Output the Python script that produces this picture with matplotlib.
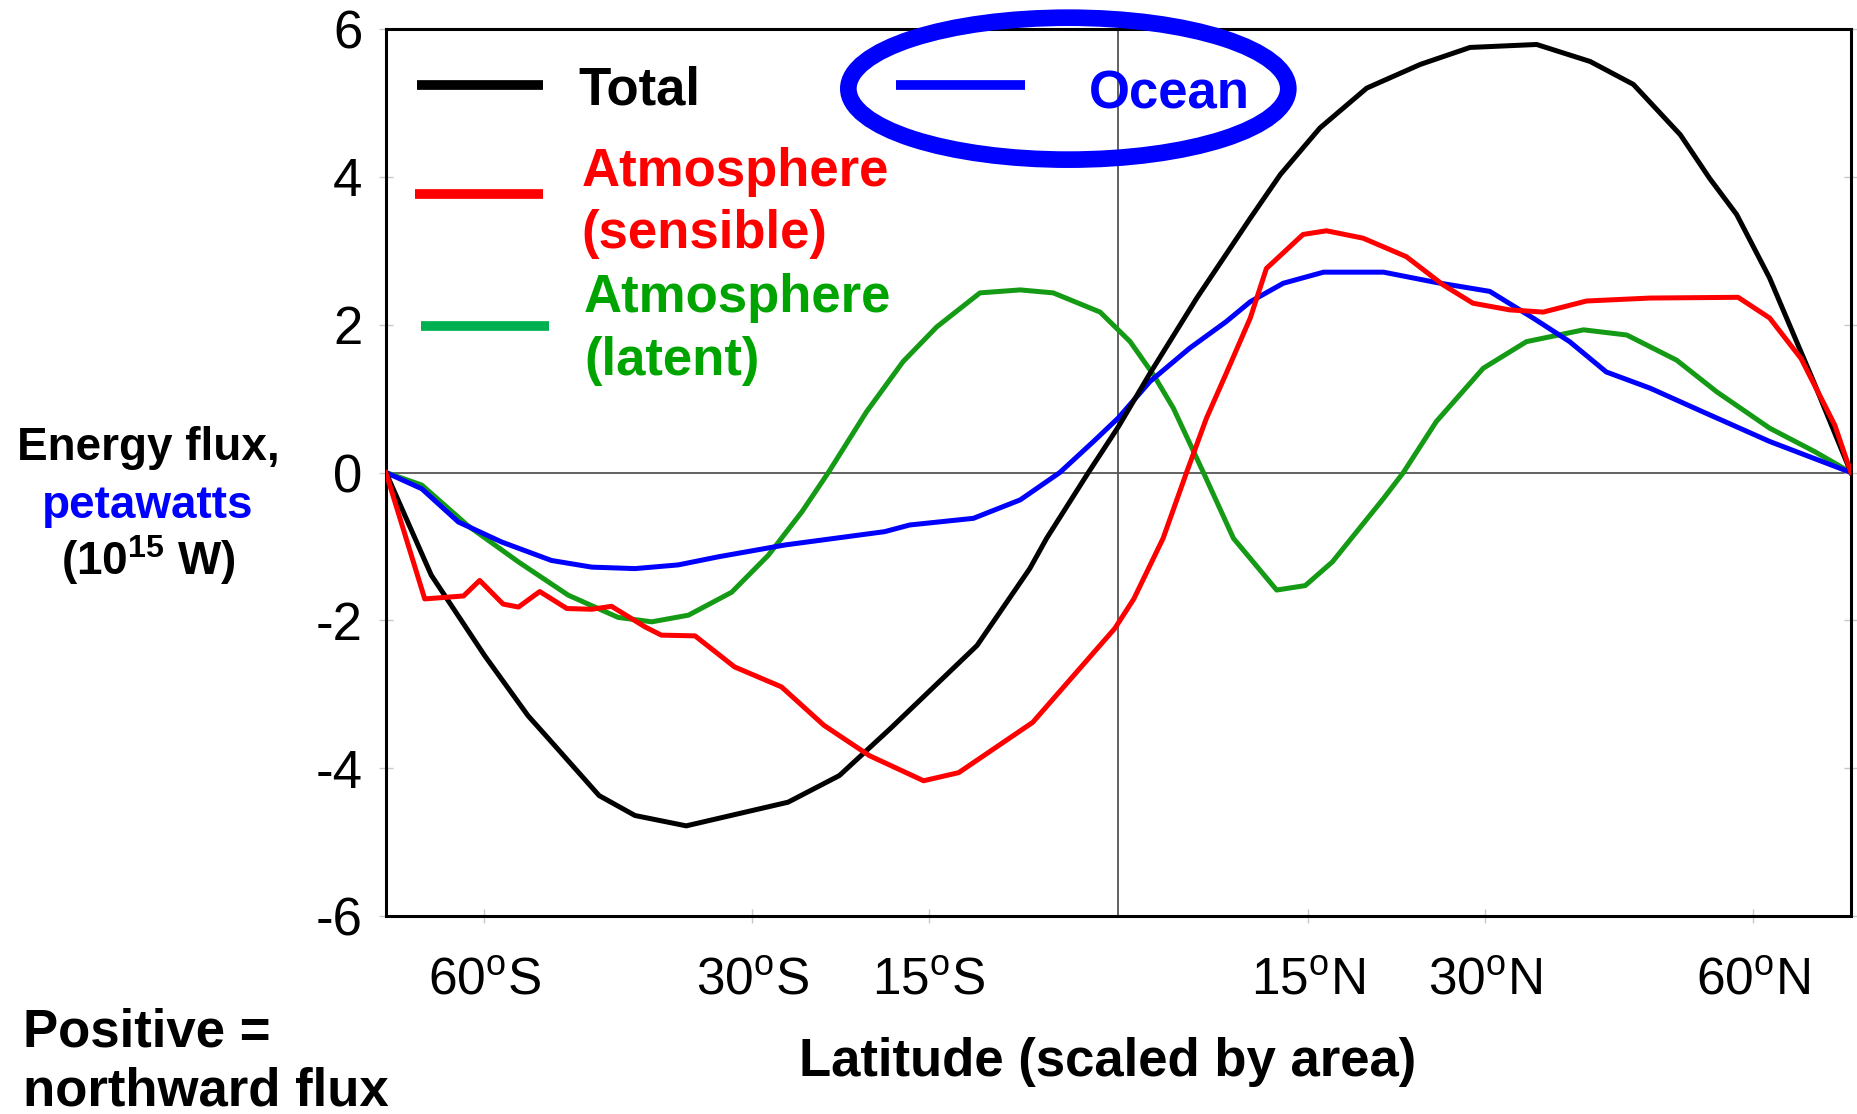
import numpy as np
import matplotlib
matplotlib.use("Agg")
import matplotlib.pyplot as plt
from matplotlib.patches import Ellipse

plt.rcParams['font.family'] = ['Liberation Sans', 'DejaVu Sans']
plt.rcParams['mathtext.fontset'] = 'custom'
plt.rcParams['mathtext.rm'] = 'Liberation Sans'
plt.rcParams['mathtext.bf'] = 'Liberation Sans:bold'
plt.rcParams['mathtext.default'] = 'regular'

# x is sin(latitude) so that equal distances mean equal areas; y in PW
total_x = [-1.0, -0.938, -0.865, -0.806, -0.778, -0.709, -0.66, -0.59, -0.451,
           -0.381, -0.312, -0.193, -0.121, -0.098, -0.041, 0.0, 0.043, 0.107,
           0.18, 0.221, 0.275, 0.339, 0.412, 0.48, 0.571, 0.644, 0.703, 0.767,
           0.807, 0.844, 0.889, 0.949, 1.0]
total_y = [0.0, -1.39, -2.48, -3.29, -3.6, -4.37, -4.64, -4.78, -4.46,
           -4.1, -3.47, -2.34, -1.3, -0.89, 0.0, 0.62, 1.34, 2.36,
           3.44, 4.03, 4.66, 5.2, 5.52, 5.75, 5.79, 5.56, 5.25, 4.57,
           3.98, 3.49, 2.63, 1.23, 0.0]

sensible_x = [-1.0, -0.947, -0.894, -0.872, -0.84, -0.819, -0.79, -0.753, -0.719,
              -0.692, -0.646, -0.624, -0.578, -0.524, -0.46, -0.402, -0.34,
              -0.266, -0.218, -0.117, -0.005, 0.021, 0.061, 0.093, 0.12, 0.148,
              0.18, 0.202, 0.252, 0.284, 0.334, 0.393, 0.443, 0.484, 0.534,
              0.58, 0.639, 0.726, 0.846, 0.889, 0.932, 0.978, 1.0]
sensible_y = [0.0, -1.71, -1.67, -1.46, -1.78, -1.82, -1.61, -1.84, -1.85,
              -1.81, -2.09, -2.2, -2.21, -2.63, -2.9, -3.42, -3.83,
              -4.17, -4.06, -3.38, -2.11, -1.71, -0.89, 0.0, 0.73, 1.36,
              2.09, 2.76, 3.22, 3.27, 3.17, 2.92, 2.54, 2.29, 2.2,
              2.17, 2.32, 2.36, 2.37, 2.09, 1.54, 0.64, 0.0]

latent_x = [-1.0, -0.951, -0.888, -0.819, -0.751, -0.683, -0.637, -0.587, -0.528,
            -0.478, -0.432, -0.396, -0.344, -0.294, -0.248, -0.189, -0.134,
            -0.089, -0.025, 0.016, 0.048, 0.075, 0.116, 0.157, 0.216, 0.255,
            0.292, 0.362, 0.389, 0.434, 0.498, 0.557, 0.635, 0.694, 0.762,
            0.817, 0.889, 0.951, 1.0]
latent_y = [0.0, -0.17, -0.72, -1.21, -1.66, -1.96, -2.02, -1.93, -1.62,
            -1.12, -0.53, 0.0, 0.82, 1.5, 1.97, 2.43, 2.47,
            2.43, 2.17, 1.77, 1.32, 0.87, 0.0, -0.89, -1.59, -1.53,
            -1.21, -0.35, 0.0, 0.69, 1.41, 1.77, 1.93, 1.86, 1.52,
            1.09, 0.6, 0.28, 0.0]

ocean_x = [-1.0, -0.951, -0.901, -0.842, -0.774, -0.719, -0.66, -0.601, -0.546,
           -0.455, -0.319, -0.285, -0.198, -0.134, -0.08, -0.034, 0.0, 0.043,
           0.097, 0.147, 0.18, 0.225, 0.28, 0.362, 0.434, 0.507, 0.566, 0.616,
           0.666, 0.726, 0.798, 0.889, 1.0]
ocean_y = [0.0, -0.22, -0.67, -0.94, -1.19, -1.28, -1.3, -1.25, -1.14,
           -0.98, -0.8, -0.71, -0.62, -0.37, 0.0, 0.42, 0.74, 1.23,
           1.68, 2.04, 2.31, 2.56, 2.71, 2.71, 2.57, 2.45, 2.09, 1.77,
           1.36, 1.14, 0.82, 0.42, 0.0]

tick_lats = [-60, -30, -15, 15, 30, 60]
tick_labels = [r'60$^{o}$S', r'30$^{o}$S', r'15$^{o}$S',
               r'15$^{o}$N', r'30$^{o}$N', r'60$^{o}$N']
y_ticks = [-6, -4, -2, 0, 2, 4, 6]

RED = '#ff0000'
BLUE = '#0000ff'
GREEN = '#159a15'
GREEN_TXT = '#00a400'
GREEN_KEY = '#00b050'

fig = plt.figure(figsize=(18.58, 11.14), dpi=100)
ax = fig.add_axes([0.2077, 0.1777, 0.7885, 0.7963])

ax.axhline(0, color='#555555', lw=1.3, zorder=1)
ax.axvline(0, color='#555555', lw=1.3, zorder=1)

lw = 3.6
ax.plot(latent_x, latent_y, color=GREEN, lw=lw, zorder=3)
ax.plot(ocean_x, ocean_y, color=BLUE, lw=lw, zorder=3)
ax.plot(total_x, total_y, color='black', lw=lw, zorder=4)
ax.plot(sensible_x, sensible_y, color=RED, lw=lw, zorder=4)

ax.set_xlim(-1, 1)
ax.set_ylim(-6, 6)
ax.set_xticks(np.sin(np.radians(tick_lats)), tick_labels)
ax.set_yticks(y_ticks, [str(v) for v in y_ticks])
ax.tick_params(direction='inout', length=10, width=1, color='#c8c8c8',
               labelsize=38, right=True)
ax.tick_params(axis='y', pad=12)
ax.tick_params(axis='x', pad=24, labelsize=37)
for s in ax.spines.values():
    s.set_linewidth(2.2)
    s.set_color('black')

# hand-placed legend
def key(x0, x1, y, color):
    ax.plot([x0, x1], [y, y], transform=ax.transAxes, color=color, lw=7,
            solid_capstyle='butt', clip_on=False)

def label(x, y, s, color):
    ax.text(x, y, s, transform=ax.transAxes, fontsize=38, fontweight='bold',
            color=color, va='baseline', ha='left')

key(0.0212, 0.1072, 0.9369, 'black')
label(0.1313, 0.9143, 'Total', 'black')
key(0.0198, 0.1072, 0.8143, RED)
label(0.1333, 0.8230, 'Atmosphere', RED)
label(0.1333, 0.7528, '(sensible)', RED)
key(0.0239, 0.1113, 0.6654, GREEN_KEY)
label(0.1353, 0.6813, 'Atmosphere', GREEN_TXT)
label(0.1353, 0.6099, '(latent)', GREEN_TXT)
key(0.3479, 0.4361, 0.9369, BLUE)
label(0.4799, 0.9106, 'Ocean', BLUE)
ax.add_patch(Ellipse((0.4658, 0.9327), 0.3003, 0.160, transform=ax.transAxes,
                     fill=False, ec=BLUE, lw=12, clip_on=False, zorder=6))

fig.text(0.0797, 0.5867, 'Energy flux,', ha='center', va='baseline',
         fontsize=33, fontweight='bold')
fig.text(0.0797, 0.5354, 'petawatts', ha='center', va='baseline',
         fontsize=33, fontweight='bold', color=BLUE)
fig.text(0.0797, 0.4842, r'(10$^{15}$ W)', ha='center', va='baseline',
         fontsize=33, fontweight='bold')

fig.text(0.0125, 0.0610, 'Positive =', ha='left', va='baseline',
         fontsize=38, fontweight='bold')
fig.text(0.0125, 0.0080, 'northward flux', ha='left', va='baseline',
         fontsize=38, fontweight='bold')
fig.text(0.5963, 0.0340, 'Latitude (scaled by area)', ha='center',
         va='baseline', fontsize=38, fontweight='bold')

fig.savefig('out.png', dpi=100)
